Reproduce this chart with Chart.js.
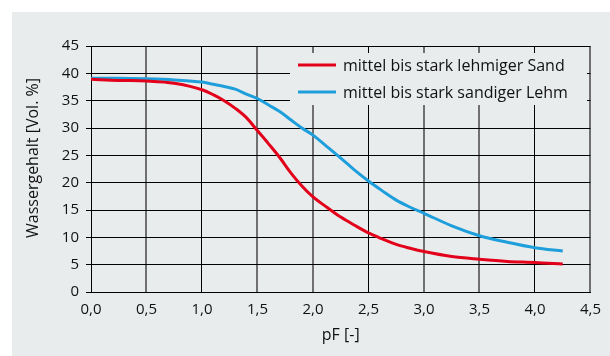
<!DOCTYPE html>
<html>
<head>
<meta charset="utf-8">
<script src="https://cdn.jsdelivr.net/npm/chart.js@4"></script>
<style>
  html, body { margin: 0; padding: 0; background: #ffffff; }
  #wrap { width: 610px; height: 356px; }
</style>
</head>
<body>
<div id="wrap"><canvas id="pfChart" width="610" height="356"></canvas></div>
<script>
// pF values (x) and water content in Vol. % for both soil types
var pfValues = [0, 0.25, 0.5, 0.75, 1.0, 1.1, 1.2, 1.3, 1.4, 1.5, 1.6, 1.7, 1.8, 1.9, 2.0,
                2.125, 2.25, 2.375, 2.5, 2.625, 2.75, 2.875, 3.0, 3.25, 3.5, 3.75, 4.0, 4.25];
var lehmigerSand = [38.9, 38.7, 38.6, 38.2, 37.0, 36.1, 35.0, 33.6, 31.9, 29.5, 27.1, 24.6, 21.8, 19.4, 17.4,
                    15.5, 13.7, 12.2, 10.8, 9.7, 8.7, 8.0, 7.4, 6.5, 6.0, 5.6, 5.4, 5.1];
var sandigerLehm = [39.1, 39.1, 39.0, 38.8, 38.4, 38.0, 37.6, 37.1, 36.2, 35.4, 34.2, 33.0, 31.5, 30.0, 28.7,
                    26.6, 24.5, 22.3, 20.3, 18.5, 16.8, 15.5, 14.4, 12.1, 10.3, 9.1, 8.1, 7.5];
var seriesLabels = ['mittel bis stark lehmiger Sand', 'mittel bis stark sandiger Lehm'];
var seriesColors = ['#e2001a', '#1e9fdc'];
var xTitle = 'pF [-]';
var yTitle = 'Wassergehalt [Vol. %]';

var bgColor = '#e9eced';
var textColor = '#111111';
var fontFamily = '"Open Sans", sans-serif';

function toPoints(xs, ys) {
    return xs.map(function (x, i) { return { x: x, y: ys[i] }; });
}

// light grey panel behind the chart
var panelPlugin = {
    id: 'panel',
    beforeDraw: function (chart) {
        var c = chart.ctx;
        c.save();
        c.fillStyle = '#ffffff';
        c.fillRect(0, 0, chart.width, chart.height);
        c.fillStyle = bgColor;
        c.fillRect(12, 12, chart.width - 12, chart.height - 12);
        c.restore();
    }
};

// legend box sitting on top of the grid, upper right
var legendBoxPlugin = {
    id: 'legendBox',
    beforeDatasetsDraw: function (chart) {
        var c = chart.ctx;
        c.save();
        c.fillStyle = bgColor;
        c.fillRect(290, 53, 297, 52);
        c.font = '16px ' + fontFamily;
        c.textBaseline = 'middle';
        c.fillStyle = textColor;
        for (var i = 0; i < seriesLabels.length; i++) {
            var y = 65 + i * 27;
            c.strokeStyle = seriesColors[i];
            c.lineWidth = 3;
            c.beginPath();
            c.moveTo(298, y);
            c.lineTo(336, y);
            c.stroke();
            c.fillText(seriesLabels[i], 343, y + 1);
        }
        c.restore();
    },
    afterDraw: function (chart) {
        var c = chart.ctx;
        c.save();
        c.font = '16px ' + fontFamily;
        c.fillStyle = textColor;
        c.textAlign = 'center';
        c.textBaseline = 'middle';
        c.translate(33, 158);
        c.rotate(-Math.PI / 2);
        c.fillText(yTitle, 0, 0);
        c.restore();
    }
};

var greyLines = [0.5, 1.5, 2.0, 3.0, 3.5, 4.5];

var ctx = document.getElementById('pfChart').getContext('2d');
var pfChart = new Chart(ctx, {
    type: 'line',
    data: {
        datasets: [{
            label: seriesLabels[0],
            data: toPoints(pfValues, lehmigerSand),
            borderColor: seriesColors[0],
            borderWidth: 3,
            pointRadius: 0,
            cubicInterpolationMode: 'monotone',
            fill: false
        }, {
            label: seriesLabels[1],
            data: toPoints(pfValues, sandigerLehm),
            borderColor: seriesColors[1],
            borderWidth: 3,
            pointRadius: 0,
            cubicInterpolationMode: 'monotone',
            fill: false
        }]
    },
    options: {
        responsive: false,
        animation: false,
        layout: { padding: { top: 46, right: 17, left: 0, bottom: 0 } },
        plugins: {
            legend: { display: false },
            tooltip: { enabled: false }
        },
        scales: {
            x: {
                type: 'linear',
                min: 0,
                max: 4.5,
                afterFit: function (scale) { scale.height = 64; },
                ticks: {
                    stepSize: 0.5,
                    padding: 9,
                    color: textColor,
                    font: { family: fontFamily, size: 15 },
                    maxRotation: 0,
                    callback: function (v) { return v.toFixed(1).replace('.', ','); }
                },
                grid: {
                    drawTicks: false,
                    color: function (c) {
                        return greyLines.indexOf(c.tick && c.tick.value) >= 0 ? '#707070' : '#000000';
                    },
                    lineWidth: function (c) {
                        return greyLines.indexOf(c.tick && c.tick.value) >= 0 ? 2 : 1;
                    }
                },
                border: { color: '#000000', width: 1 },
                title: {
                    display: true,
                    text: xTitle,
                    color: textColor,
                    font: { family: fontFamily, size: 16 },
                    padding: { top: 0, bottom: 11 }
                }
            },
            y: {
                min: 0,
                max: 45,
                afterFit: function (scale) { scale.width = 91; },
                ticks: {
                    stepSize: 5,
                    padding: 7,
                    color: textColor,
                    font: { family: fontFamily, size: 15 }
                },
                grid: {
                    color: '#000000',
                    lineWidth: 1,
                    tickLength: 5
                },
                border: { color: '#000000', width: 1 }
            }
        }
    },
    plugins: [panelPlugin, legendBoxPlugin]
});
</script>
</body>
</html>
